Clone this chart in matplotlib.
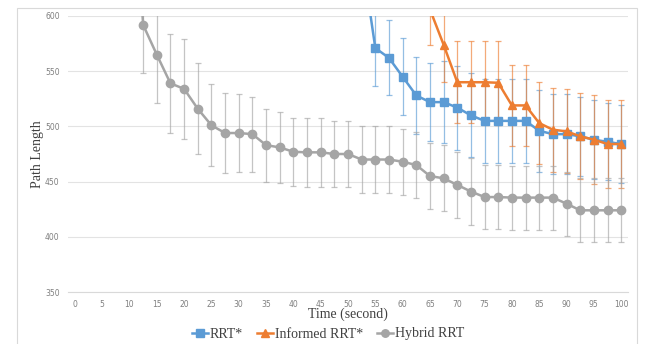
import matplotlib
matplotlib.use("Agg")
import matplotlib.pyplot as plt
from matplotlib.patches import Rectangle
import numpy as np

# data (points above 600 are clipped by the axes)
t_hybrid = [10, 12.5, 15, 17.5, 20, 22.5, 25, 27.5, 30, 32.5, 35, 37.5, 40, 42.5, 45,
            47.5, 50, 52.5, 55, 57.5, 60, 62.5, 65, 67.5, 70, 72.5, 75, 77.5, 80,
            82.5, 85, 87.5, 90, 92.5, 95, 97.5, 100]
hybrid = [790, 592, 565, 539, 534, 516, 501, 494, 494, 493, 483, 481, 477, 476.5, 476.5,
          475, 475, 470, 470, 470, 468, 465, 455, 453, 447, 441, 436, 436, 435.5,
          435.5, 435.5, 435.5, 430, 424, 424, 424, 424]
hybrid_err = [45, 44, 44, 45, 45, 41, 37, 36, 35, 34, 33, 32, 31, 31, 31,
              30, 30, 30, 30, 30, 30, 30, 30, 30, 30, 30, 29, 29, 29,
              29, 29, 29, 29, 29, 29, 29, 29]

t_rrt = [52.5, 55, 57.5, 60, 62.5, 65, 67.5, 70, 72.5, 75, 77.5, 80, 82.5, 85,
         87.5, 90, 92.5, 95, 97.5, 100]
rrt = [655, 571, 562, 545, 528, 522, 522, 517, 510, 505, 505, 505, 505, 496,
       493, 493, 491, 488, 486, 484]
rrt_err = [34, 34, 34, 35, 35, 35, 37, 38, 38, 38, 38, 38, 38, 37,
           36, 36, 36, 36, 35, 35]

t_inf = [65, 67.5, 70, 72.5, 75, 77.5, 80, 82.5, 85, 87.5, 90, 92.5, 95, 97.5, 100]
informed = [606, 574, 540, 540, 540, 539.5, 519, 519, 503, 497, 495.5, 491, 488, 484, 484]
informed_err = [32, 34, 37, 37, 37, 38, 37, 37, 37, 38, 38, 39, 40, 40, 40]

xticks = np.arange(0, 101, 5)
yticks = np.arange(350, 601, 50)

blue = "#5B9BD5"
orange = "#ED7D31"
gray = "#A5A5A5"

fig = plt.figure(figsize=(6.46, 3.44), dpi=100)
# chart area border
fig.patches.append(Rectangle((17 / 646, -0.01), 620 / 646, 1 - 8 / 344 + 0.01,
                             transform=fig.transFigure, fill=False,
                             edgecolor="#D9D9D9", linewidth=0.8))
ax = fig.add_axes([68 / 646, 1 - 292 / 344, 560 / 646, 276 / 344])

series = [
    (t_rrt, rrt, rrt_err, blue, "s", "RRT*"),
    (t_inf, informed, informed_err, orange, "^", "Informed RRT*"),
    (t_hybrid, hybrid, hybrid_err, gray, "o", "Hybrid RRT"),
]
for t, v, e, c, m, lab in series:
    ax.errorbar(t, v, yerr=e, fmt="none", ecolor=c, elinewidth=0.9,
                capsize=2, capthick=0.9, alpha=0.65, zorder=2)
for t, v, e, c, m, lab in series:
    ax.plot(t, v, color=c, marker=m, markersize=6, linewidth=1.8,
            label=lab, zorder=3)

ax.set_xlim(-1.25, 101.25)
ax.set_ylim(350, 600)
ax.set_xticks(xticks)
ax.set_yticks(yticks)
ax.tick_params(length=0, labelsize=5.5, labelcolor="#7F7F7F", pad=6)
ax.grid(axis="y", color="#E3E3E3", linewidth=0.8)
ax.set_axisbelow(True)
for s in ["top", "right", "left"]:
    ax.spines[s].set_visible(False)
ax.spines["bottom"].set_color("#D9D9D9")
ax.spines["bottom"].set_linewidth(0.8)

ax.set_xlabel("Time (second)", family="Liberation Serif", fontsize=10,
              color="#404040", labelpad=-1)
ax.set_ylabel("Path Length", family="Liberation Serif", fontsize=10,
              color="#404040", labelpad=1)

fig.legend(loc="center", bbox_to_anchor=(328 / 646, 1 - 334 / 344), ncol=3,
           frameon=False, prop={"family": "Liberation Serif", "size": 10},
           handlelength=1.15, handletextpad=0.15, columnspacing=1.0,
           labelcolor="#404040", markerscale=0.9)

fig.savefig("out.png", dpi=100)
